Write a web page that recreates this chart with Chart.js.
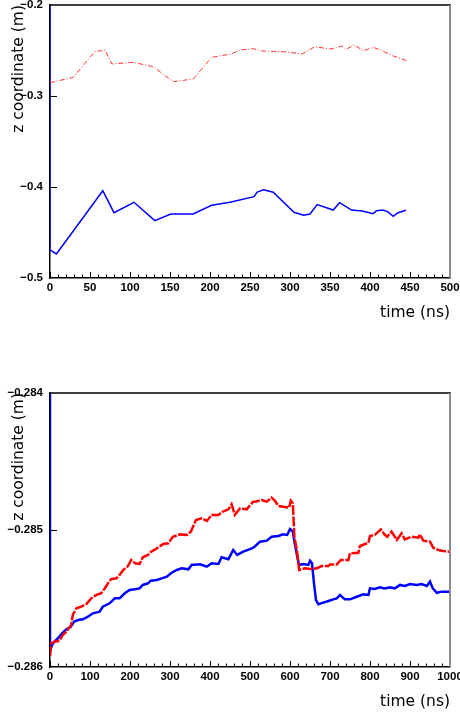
<!DOCTYPE html>
<html>
<head>
<meta charset="utf-8">
<script src="https://cdn.jsdelivr.net/npm/chart.js@4/dist/chart.umd.min.js"></script>
<style>
  html, body { margin: 0; padding: 0; background: #fff; }
  body { width: 460px; height: 715px; position: relative; overflow: hidden; }
  canvas { position: absolute; left: 0; }
  #topChart { top: 0; }
  #bottomChart { top: 330px; }
</style>
</head>
<body>
<canvas id="topChart" width="460" height="330"></canvas>
<canvas id="bottomChart" width="460" height="385"></canvas>
<script>
// Top panel: time (ns) and z (m)
const topRedT = [0, 29, 56, 69, 77, 104, 129, 154, 179, 202, 227, 237, 254, 265, 292, 315, 323, 331, 350, 358, 365, 370, 380, 392, 404, 415, 429, 446];
const topRedZ = [-0.2854, -0.2795, -0.2513, -0.2495, -0.2648, -0.263, -0.2678, -0.2843, -0.2813, -0.2575, -0.2538, -0.2495, -0.248, -0.2505, -0.2513, -0.2538, -0.2502, -0.2458, -0.2484, -0.2469, -0.2451, -0.2487, -0.244, -0.2502, -0.2465, -0.2502, -0.256, -0.2612];
const topBlueT = [0, 0, 8, 66, 80, 105, 131, 151, 179, 202, 225, 255, 259, 267, 279, 305, 317, 325, 334, 354, 362, 377, 390, 404, 408, 416, 422, 429, 435, 445];
const topBlueZ = [0, -0.4692, -0.4736, -0.4041, -0.4282, -0.4168, -0.437, -0.4297, -0.4297, -0.4201, -0.4168, -0.4106, -0.4055, -0.403, -0.4058, -0.4278, -0.4311, -0.4297, -0.4194, -0.4253, -0.4172, -0.4253, -0.4264, -0.4293, -0.426, -0.4253, -0.4271, -0.4322, -0.4282, -0.4256];
const topXTicks = [0, 50, 100, 150, 200, 250, 300, 350, 400, 450, 500];
const topYTicks = [-0.5, -0.4, -0.3, -0.2];

// Bottom panel
const botRedT = [0, 3, 12, 24, 32, 41, 53, 57, 66, 78, 91, 103, 116, 128, 137, 145, 153, 166, 174, 183, 195, 203, 213, 224, 232, 245, 252, 267, 283, 296, 307, 325, 342, 352, 365, 379, 392, 404, 421, 432, 446, 454, 462, 475, 492, 500, 508, 512, 529, 542, 554, 562, 571, 583, 598, 602, 607, 611, 617, 623, 637, 650, 667, 679, 696, 700, 717, 727, 746, 750, 771, 775, 796, 800, 812, 821, 827, 837, 843, 854, 867, 879, 887, 904, 921, 925, 933, 950, 958, 971, 983, 998];
const botRedZ = [-0.28592, -0.285827, -0.285815, -0.285808, -0.285766, -0.285742, -0.285693, -0.28562, -0.285572, -0.28556, -0.28554, -0.285499, -0.285474, -0.285462, -0.285426, -0.285389, -0.285358, -0.285353, -0.285328, -0.285292, -0.285263, -0.285219, -0.285243, -0.285248, -0.285199, -0.285182, -0.28516, -0.285134, -0.285102, -0.285097, -0.285049, -0.285032, -0.285036, -0.285012, -0.284927, -0.284915, -0.284934, -0.28489, -0.28489, -0.284866, -0.284849, -0.284812, -0.28489, -0.284842, -0.284849, -0.28482, -0.284793, -0.284793, -0.284781, -0.284793, -0.284764, -0.284786, -0.284825, -0.28483, -0.284837, -0.284786, -0.284805, -0.285049, -0.285146, -0.285292, -0.28528, -0.285285, -0.28528, -0.285263, -0.285263, -0.285251, -0.285251, -0.285219, -0.285219, -0.28517, -0.285166, -0.285117, -0.285093, -0.285044, -0.285036, -0.285012, -0.284995, -0.285036, -0.285049, -0.285012, -0.285073, -0.285024, -0.285068, -0.285049, -0.285056, -0.285032, -0.285078, -0.285085, -0.285129, -0.285146, -0.285153, -0.285158];
const botBlueT = [0, 0, 7, 20, 30, 41, 52, 60, 70, 82, 95, 107, 124, 132, 149, 162, 174, 187, 199, 212, 224, 232, 245, 252, 267, 279, 292, 304, 317, 329, 346, 354, 375, 392, 404, 421, 429, 446, 458, 468, 483, 500, 510, 525, 542, 554, 571, 583, 593, 600, 607, 611, 615, 619, 623, 633, 646, 650, 655, 660, 665, 671, 683, 696, 708, 717, 725, 737, 750, 767, 783, 796, 800, 812, 825, 837, 850, 862, 875, 887, 900, 917, 929, 942, 950, 957, 967, 979, 998];
const botBlueZ = [0, -0.28588, -0.285827, -0.28579, -0.285754, -0.285725, -0.285706, -0.285669, -0.285657, -0.285652, -0.285633, -0.285608, -0.285596, -0.28556, -0.285535, -0.285499, -0.285499, -0.285462, -0.285438, -0.285433, -0.285426, -0.285401, -0.285389, -0.28537, -0.285365, -0.285353, -0.285341, -0.285312, -0.285292, -0.28528, -0.285287, -0.285255, -0.28525, -0.285268, -0.285243, -0.285248, -0.285199, -0.285214, -0.285146, -0.285182, -0.285158, -0.28514, -0.285126, -0.285085, -0.285078, -0.285049, -0.285044, -0.285032, -0.285036, -0.284993, -0.285012, -0.285085, -0.285146, -0.285207, -0.285255, -0.285248, -0.285255, -0.285224, -0.285243, -0.285389, -0.285511, -0.285542, -0.28553, -0.285518, -0.285506, -0.285499, -0.285474, -0.285506, -0.285506, -0.285487, -0.28547, -0.285474, -0.285426, -0.285431, -0.285418, -0.285426, -0.285418, -0.285426, -0.285401, -0.285409, -0.285394, -0.285401, -0.285394, -0.285409, -0.285377, -0.285426, -0.285458, -0.28545, -0.28545];
const botXTicks = [0, 100, 200, 300, 400, 500, 600, 700, 800, 900, 1000];
const botYTicks = [-0.286, -0.285, -0.284];

const tickFont = { family: 'Liberation Sans', size: 11.5, weight: 'bold' };
const titleFont = { family: 'DejaVu Sans', size: 15.5 };

function toPoints(ts, zs) {
  return ts.map((t, i) => ({ x: t, y: zs[i] }));
}

// Format negative numbers with a real minus sign
function fmt(v, digits) {
  return (v < 0 ? '\u2212' : '') + Math.abs(v).toFixed(digits);
}

// Draws inward tick marks plus the top and right frame lines
const frameTicks = {
  id: 'frameTicks',
  afterDatasetsDraw(chart, args, opts) {
    const { ctx, chartArea: a, scales: { x, y } } = chart;
    ctx.save();
    ctx.strokeStyle = '#000';
    ctx.lineWidth = 1;
    for (let v = x.min; v <= x.max + 1e-9; v += opts.minor) {
      const px = Math.round(x.getPixelForValue(v)) + 0.5;
      const major = Math.abs(v / opts.major - Math.round(v / opts.major)) < 1e-6;
      ctx.beginPath();
      ctx.moveTo(px, a.bottom);
      ctx.lineTo(px, a.bottom - (major ? 6 : 3.5));
      ctx.stroke();
    }
    y.ticks.forEach(t => {
      const py = Math.round(y.getPixelForValue(t.value)) + 0.5;
      if (py < a.top + 2 || py > a.bottom - 2) return;
      ctx.beginPath();
      ctx.moveTo(a.left, py);
      ctx.lineTo(a.left + 7, py);
      ctx.stroke();
    });
    // top border
    ctx.lineWidth = 1.5;
    ctx.beginPath();
    ctx.moveTo(a.left, a.top);
    ctx.lineTo(a.right + 1, a.top);
    ctx.stroke();
    // right border (grey)
    ctx.strokeStyle = '#8c8c8c';
    ctx.lineWidth = 2;
    ctx.beginPath();
    ctx.moveTo(a.right, a.top);
    ctx.lineTo(a.right, a.bottom);
    ctx.stroke();
    ctx.restore();
  }
};

function makeChart(canvas, cfg) {
  return new Chart(canvas, {
    type: 'line',
    data: { datasets: cfg.datasets },
    plugins: [frameTicks],
    options: {
      responsive: false,
      animation: false,
      devicePixelRatio: 1,
      layout: { padding: cfg.padding },
      elements: { point: { radius: 0 }, line: { tension: 0 } },
      plugins: {
        legend: { display: false },
        tooltip: { enabled: false },
        frameTicks: { minor: cfg.minor, major: cfg.major }
      },
      scales: {
        x: {
          type: 'linear',
          min: cfg.xTicks[0],
          max: cfg.xTicks[cfg.xTicks.length - 1],
          afterBuildTicks: s => { s.ticks = cfg.xTicks.map(v => ({ value: v })); },
          afterFit: s => { s.height = 46; s.paddingLeft = 0; s.paddingRight = 0; },
          grid: { display: true, drawOnChartArea: false, drawTicks: false },
          border: { display: true, color: '#000', width: 1.5 },
          ticks: { font: tickFont, color: '#000', padding: 3, maxRotation: 0, autoSkip: false, callback: v => String(v) },
          title: { display: true, text: 'time (ns)', align: 'end', font: titleFont, color: '#000', padding: { top: 0, bottom: 2 } }
        },
        y: {
          type: 'linear',
          min: cfg.yTicks[0],
          max: cfg.yTicks[cfg.yTicks.length - 1],
          afterBuildTicks: s => { s.ticks = cfg.yTicks.map(v => ({ value: v })); },
          afterFit: s => { s.width = 50; s.paddingTop = 0; s.paddingBottom = 0; },
          grid: { display: true, drawOnChartArea: false, drawTicks: false },
          border: { display: true, color: '#000', width: 1.5 },
          ticks: { font: tickFont, color: '#000', padding: 7, autoSkip: false, callback: v => fmt(v, cfg.yDigits) },
          title: { display: true, text: 'z coordinate (m)', align: 'end', font: titleFont, color: '#000', padding: { top: 10, bottom: 0 } }
        }
      }
    }
  });
}

makeChart(document.getElementById('topChart'), {
  padding: { top: 5, right: 10, bottom: 6, left: 0 },
  xTicks: topXTicks, yTicks: topYTicks, yDigits: 1, minor: 10, major: 50,
  datasets: [
    { data: toPoints(topRedT, topRedZ), borderColor: 'rgb(255,50,50)', borderWidth: 1, borderDash: [5, 2, 1, 2] },
    { data: toPoints(topBlueT, topBlueZ), borderColor: '#0000ff', borderWidth: 1.5 }
  ]
});

makeChart(document.getElementById('bottomChart'), {
  padding: { top: 63, right: 10, bottom: 2, left: 0 },
  xTicks: botXTicks, yTicks: botYTicks, yDigits: 3, minor: 20, major: 100,
  datasets: [
    { data: toPoints(botRedT, botRedZ), borderColor: '#ff0000', borderWidth: 2.5, borderDash: [10, 1.5] },
    { data: toPoints(botBlueT, botBlueZ), borderColor: '#0000ff', borderWidth: 2.5 }
  ]
});
</script>
</body>
</html>
